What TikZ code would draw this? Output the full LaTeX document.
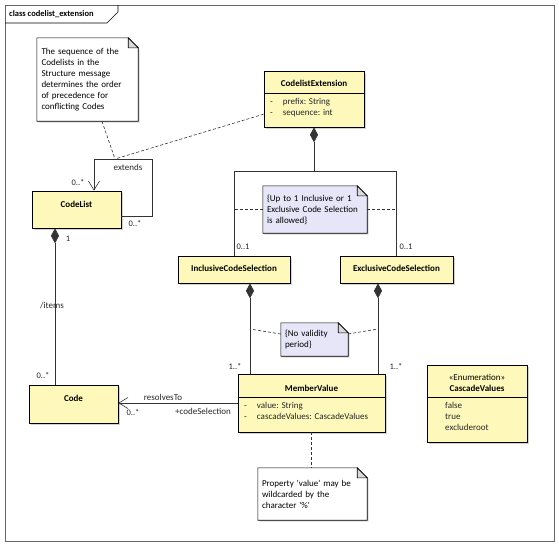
\documentclass[tikz,border=0pt]{standalone}
\usepackage{fontspec}
\setmainfont{Carlito}
\usepackage[]{xcolor}
\usepackage{tikz}
\usetikzlibrary{positioning, arrows.meta, shadows, backgrounds}

\definecolor{classyellow}{RGB}{254,249,186}
\definecolor{notelilac}{RGB}{230,230,248}

%% Note outline with folded corner, drawn round a named node
\newcommand{\notefold}[2]{%
  \begin{scope}[on background layer]
    \draw[fill=#2,line width=0.6pt,
      drop shadow={shadow xshift=1.5pt,shadow yshift=-1.5pt,fill=black!30}]
      (#1.south west) -- (#1.north west) -- ([xshift=-10pt]#1.north east)
      -- ([yshift=-10pt]#1.north east) -- (#1.south east) -- cycle;
  \end{scope}
  \draw[fill=black!15,line width=0.6pt] ([xshift=-10pt]#1.north east)
    -- ([xshift=-10pt,yshift=-10pt]#1.north east) -- ([yshift=-10pt]#1.north east) -- cycle;}

\begin{document}
\begin{tikzpicture}[x=1pt,y=-1pt,
    font=\fontsize{9}{11}\selectfont,
% Class and note style
    umlclass/.style={rectangle,draw,fill=classyellow,line width=0.7pt,
		drop shadow={shadow xshift=1.5pt,shadow yshift=-1.5pt,fill=black!35}},
    umlname/.style={font=\fontsize{9}{11}\selectfont\bfseries,inner sep=0pt},
    umlstereo/.style={inner sep=0pt},
    umlattr/.style={align=left,inner sep=0pt,anchor=west,text=black!85},
    umlnote/.style={rectangle,align=left,inner xsep=4pt,inner ysep=2pt},
% Label style
    mult/.style={font=\fontsize{8.5}{10}\selectfont,inner sep=0pt,text=black!85},
    umllabel/.style={inner sep=0pt,text=black!85},
% Connector style
    umllink/.style={draw=black!80,line width=0.6pt},
    owns/.style={umllink,{Diamond[length=15pt,width=8pt]}-},
    navig/.style={umllink,-{Straight Barb[length=9pt,width=11pt]}},
    anchorline/.style={umllink,dash pattern=on 3pt off 2pt}
    ]
\useasboundingbox (0,0) rectangle (559,546);
%% Frame and title tab
   \draw[black!60,line width=0.8pt] (5,5) rectangle (554,541);
   \draw[line width=0.6pt] (5,23) -- (107,23) -- (118,12) -- (118,5);
   \node (title) [anchor=west,inner sep=0pt,font=\fontsize{8.5}{10}\selectfont\bfseries]
	at (9,14.5) {class codelist\_extension};
%% Classes
   \node (cle) [umlclass,minimum width=100pt,minimum height=56pt] at (314,99) {};
   \node (cle-name) [umlname] at (314,83) {CodelistExtension};
   \draw[line width=0.6pt] (cle.west |- 0,93) -- (cle.east |- 0,93);
   \node (cle-attr) [umlattr] at (270,107.5)
	{\begin{tabular}{@{}l@{\hspace{10pt}}l@{}}-&prefix: String\\-&sequence: int\end{tabular}};
   \node (codelist) [umlclass,minimum width=89pt,minimum height=37pt] at (76.5,209.5) {};
   \node (codelist-name) [umlname] at (76.5,204) {CodeList};
   \node (inc) [umlclass,minimum width=112pt,minimum height=27pt] at (234,269.5) {};
   \node (inc-name) [umlname] at (234,268.5) {InclusiveCodeSelection};
   \node (exc) [umlclass,minimum width=113pt,minimum height=27pt] at (396.5,269.5) {};
   \node (exc-name) [umlname] at (396.5,268.5) {ExclusiveCodeSelection};
   \node (code) [umlclass,minimum width=89pt,minimum height=38pt] at (73.5,404) {};
   \node (code-name) [umlname] at (73.5,398) {Code};
   \node (mv) [umlclass,minimum width=147pt,minimum height=58pt] at (311.5,403) {};
   \node (mv-name) [umlname] at (311.5,388) {MemberValue};
   \draw[line width=0.6pt] (mv.west |- 0,397) -- (mv.east |- 0,397);
   \node (mv-attr) [umlattr] at (244,411.5)
	{\begin{tabular}{@{}l@{\hspace{10pt}}l@{}}-&value: String\\-&cascadeValues: CascadeValues\end{tabular}};
   \node (casc) [umlclass,minimum width=100pt,minimum height=77pt] at (477,403.5) {};
   \node (casc-stereo) [umlstereo] at (477,377) {«Enumeration»};
   \node (casc-name) [umlname] at (477,388.5) {CascadeValues};
   \draw[line width=0.6pt] (casc.west |- 0,397) -- (casc.east |- 0,397);
   \node (casc-lit) [umlattr] at (445,416.5) {false\\true\\excluderoot};
%% Notes
   \node (seqnote) [umlnote,minimum width=101pt,minimum height=83pt,text width=92pt]
	at (87.5,79.5) {The sequence of the\\Codelists in the\\Structure message\\determines the order\\of precedence for\\conflicting Codes};
   \notefold{seqnote}{white}
   \node (upnote) [umlnote,minimum width=104pt,minimum height=47pt,text width=96pt]
	at (315,209.5) {\{Up to 1 Inclusive or 1\\Exclusive Code Selection\\is allowed\}};
   \notefold{upnote}{notelilac}
   \node (novalnote) [umlnote,minimum width=67pt,minimum height=33pt,text width=59pt]
	at (314.5,339.5) {\{No validity\\period\}};
   \notefold{novalnote}{notelilac}
   \node (propnote) [umlnote,minimum width=109pt,minimum height=52pt,text width=101pt]
	at (312.5,494) {Property \textquotesingle value\textquotesingle\ may be\\wildcarded by the\\character \textquotesingle\%\textquotesingle};
   \notefold{propnote}{white}
%% Connectors
   \coordinate (ext) at (115,159);
   \coordinate (loop) at (152,159);
   \draw[navig] ([yshift=12pt]codelist.south east) -| (loop) -| ([xshift=17.5pt]codelist.north);
   \node (ext-lbl) [umllabel] at (128,167) {extends};
   \node (ext-m1) [mult] at (78,183) {0..*};
   \node (ext-m2) [mult] at (135,224) {0..*};
   \draw[anchorline] (seqnote) -- (ext);
   \draw[anchorline] (cle) -- (ext);
   \coordinate (fork) at (314,171);
   \draw[owns] (cle.south) -- (fork) -| (inc.north);
   \draw[umllink] (fork) -| (exc.north);
   \draw[anchorline] (upnote.west) -- (upnote.west -| inc.north);
   \draw[anchorline] (upnote.east) -- (upnote.east -| exc.north);
   \node (inc-m) [mult] at (243,247) {0..1};
   \node (exc-m) [mult] at (406,247) {0..1};
   \draw[owns] ([xshift=16pt]inc.south) -- ([xshift=16pt]inc.south |- mv.north);
   \draw[owns] ([xshift=-18.5pt]exc.south) -- ([xshift=-18.5pt]exc.south |- mv.north);
   \coordinate (incv) at (250,329);
   \coordinate (excv) at (378,329);
   \draw[anchorline] (novalnote) -- (incv);
   \draw[anchorline] (novalnote) -- (excv);
   \node (mv-m1) [mult] at (235,367) {1..*};
   \node (mv-m2) [mult] at (396,367) {1..*};
   \draw[owns] ([xshift=-21.5pt]codelist.south) -- ([xshift=-21.5pt]codelist.south |- code.north);
   \node (items-m1) [mult] at (68,239) {1};
   \node (items-lbl) [umllabel] at (52,306) {/items};
   \node (items-m2) [mult] at (43,376) {0..*};
   \draw[navig] (mv.west) -- (mv.west -| code.east);
   \node (res-lbl) [umllabel] at (163,397) {resolvesTo};
   \node (res-role) [umllabel] at (203,411) {+codeSelection};
   \node (res-m) [mult] at (133,413) {0..*};
   \draw[anchorline] (mv.south) -- (mv.south |- propnote.north);
\end{tikzpicture}
\end{document}
